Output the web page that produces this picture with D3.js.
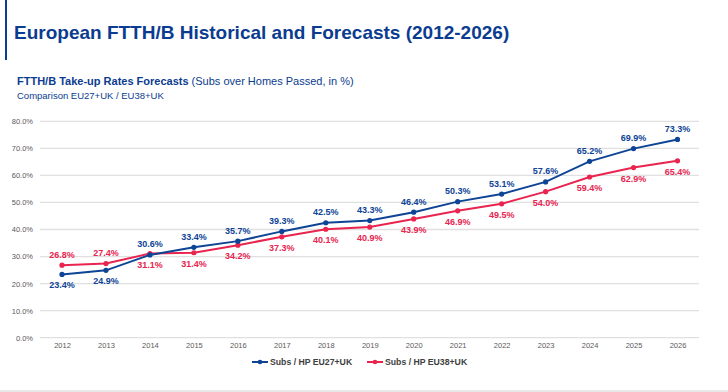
<!DOCTYPE html>
<html><head><meta charset="utf-8">
<script src="https://cdn.jsdelivr.net/npm/d3@7"></script>
<style>body{margin:0;background:#fff;} svg{display:block;font-family:"Liberation Sans",Arial,sans-serif;}</style>
</head><body>
<script>
const years = ["2012","2013","2014","2015","2016","2017","2018","2019","2020","2021","2022","2023","2024","2025","2026"];
const eu27 = [23.4,24.9,30.6,33.4,35.7,39.3,42.5,43.3,46.4,50.3,53.1,57.6,65.2,69.9,73.3];
const eu38 = [26.8,27.4,31.1,31.4,34.2,37.3,40.1,40.9,43.9,46.9,49.5,54.0,59.4,62.9,65.4];
const yTicks = [0,10,20,30,40,50,60,70,80];
const seriesNames = ["Subs / HP EU27+UK","Subs / HP EU38+UK"];
// label placement: true = above
const eu27Above = [false,false,true,true,true,true,true,true,true,true,true,true,true,true,true];
const eu38Above = [true,true,false,false,false,false,false,false,false,false,false,false,false,false,false];

const W=728,H=392;
const svg=d3.select("body").append("svg").attr("width",W).attr("height",H);
const blue="#0e4496", red="#e8244f", titleBlue="#0b3c8f";

svg.append("rect").attr("x",5).attr("y",0).attr("width",2).attr("height",60).attr("fill",titleBlue);
svg.append("text").attr("x",14).attr("y",39).attr("font-size",19).attr("font-weight","bold")
  .attr("fill",titleBlue).text("European FTTH/B Historical and Forecasts (2012-2026)");
const st=svg.append("text").attr("x",17).attr("y",85).attr("font-size",11).attr("fill",titleBlue);
st.append("tspan").attr("font-weight","bold").text("FTTH/B Take-up Rates Forecasts");
st.append("tspan").text(" (Subs over Homes Passed, in %)");
svg.append("text").attr("x",17).attr("y",98.5).attr("font-size",9.5).attr("fill",titleBlue).text("Comparison EU27+UK / EU38+UK");

const x=d3.scalePoint().domain(years).range([62,677.5]);
const y=d3.scaleLinear().domain([0,80]).range([337.7,121.3]);

const grid=svg.append("g");
grid.selectAll("line").data(yTicks).join("line")
  .attr("x1",40).attr("x2",699).attr("y1",d=>y(d)).attr("y2",d=>y(d))
  .attr("stroke","#e0e0e0").attr("stroke-width",1.3);

const yAxis=svg.append("g").attr("transform","translate(40,0)")
  .call(d3.axisLeft(y).tickValues(yTicks).tickSize(0).tickPadding(7).tickFormat(d=>d.toFixed(1)+"%"));
yAxis.select(".domain").remove();
yAxis.selectAll("text").attr("font-size",7.5).attr("fill","#595959").attr("font-family","Liberation Sans, Arial, sans-serif");

const xAxis=svg.append("g").attr("transform",`translate(0,${y(0)})`)
  .call(d3.axisBottom(x).tickSize(0).tickPadding(5));
xAxis.select(".domain").remove();
xAxis.selectAll("text").attr("font-size",7.5).attr("fill","#595959").attr("font-family","Liberation Sans, Arial, sans-serif");

function drawSeries(vals,color,above){
  const line=d3.line().x((d,i)=>x(years[i])).y(d=>y(d));
  svg.append("path").datum(vals).attr("d",line).attr("fill","none").attr("stroke",color).attr("stroke-width",2);
  svg.append("g").selectAll("circle").data(vals).join("circle")
    .attr("cx",(d,i)=>x(years[i])).attr("cy",d=>y(d)).attr("r",2.6).attr("fill",color);
  svg.append("g").selectAll("text").data(vals).join("text")
    .attr("x",(d,i)=>x(years[i])).attr("y",(d,i)=>y(d)+(above[i]?-7.5:14))
    .attr("text-anchor","middle").attr("font-size",9).attr("font-weight","bold").attr("fill",color)
    .text(d=>d.toFixed(1)+"%");
}
drawSeries(eu38,red,eu38Above);
drawSeries(eu27,blue,eu27Above);

const legend=svg.append("g");
const legX=[252,367], cols=[blue,red];
seriesNames.forEach((n,i)=>{
  const g=legend.append("g").attr("transform",`translate(${legX[i]},362)`);
  g.append("line").attr("x1",0).attr("x2",16).attr("stroke",cols[i]).attr("stroke-width",2);
  g.append("circle").attr("cx",8).attr("r",2.3).attr("fill",cols[i]);
  g.append("text").attr("x",18).attr("y",3.2).attr("font-size",8.7).attr("font-weight","bold").attr("fill","#404040").text(n);
});

svg.append("line").attr("x1",0).attr("x2",W).attr("y1",391).attr("y2",391).attr("stroke","#d0d0d0").attr("stroke-width",1);
</script>
</body></html>
